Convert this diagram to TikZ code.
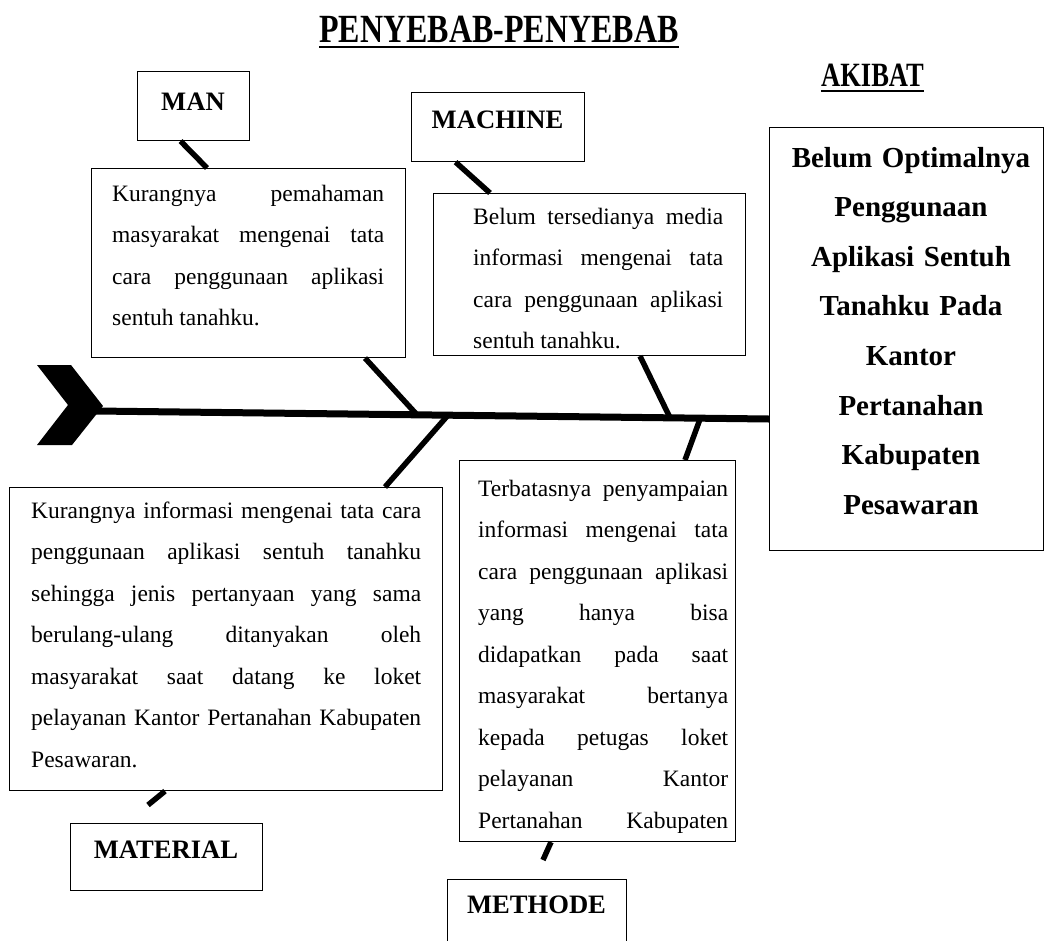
\documentclass[tikz,border=0pt]{standalone}
\usepackage{fontspec}
\setmainfont{Liberation Serif}
\usepackage{graphicx}
\usetikzlibrary{calc}
\newcommand{\nohyph}{\tolerance=10000\relax\hbadness=10000\relax\hyphenpenalty=10000\relax\exhyphenpenalty=10000\relax}
\begin{document}
\begin{tikzpicture}[x=1pt,y=-1pt,
  box/.style={draw, line width=1.1pt, inner sep=0pt, anchor=north west},
  body/.style={anchor=base west, inner sep=0pt, align=justify,
    font=\fontsize{23.5}{41.5}\selectfont},
  lbl/.style={anchor=base, inner sep=0pt, font=\fontsize{26.6}{30}\selectfont\bfseries},
  bone/.style={line width=5.5pt},
  ttl/.style={anchor=base, inner sep=0pt},
  uline/.style={line width=2.5pt}
]
\useasboundingbox (0,0) rectangle (1044,940);

% titles
\node[ttl, font=\fontsize{40}{40}\selectfont\bfseries] (title) at (499,42) {\scalebox{0.8}[1]{PENYEBAB-PENYEBAB}};
\draw[uline] ($(title.base west)+(0,5)$) -- ($(title.base east)+(0,5)$);
\node[ttl, font=\fontsize{34}{34}\selectfont\bfseries] (akibatttl) at (872.5,86) {\scalebox{0.78}[1]{AKIBAT}};
\draw[uline] ($(akibatttl.base west)+(0,5)$) -- ($(akibatttl.base east)+(0,5)$);

% label boxes
\node[box, minimum width=112pt, minimum height=69pt] (manbox) at (137,71) {};
\node[lbl] (manlbl) at (193,110) {MAN};
\node[box, minimum width=173pt, minimum height=69pt] (machbox) at (411,92) {};
\node[lbl] (machlbl) at (497.5,128) {MACHINE};
\node[box, minimum width=192pt, minimum height=67pt] (matbox) at (70,823) {};
\node[lbl] (matlbl) at (166,858) {MATERIAL};
\node[box, minimum width=179pt, minimum height=90pt] (methbox) at (447,879) {};
\node[lbl] (methlbl) at (536.5,913) {METHODE};

% text boxes
\node[box, minimum width=314pt, minimum height=189pt] (mantxtbox) at (91,168) {};
\node[body, text width=272pt] (mantxt) at (112,201) {\nohyph Kurangnya pemahaman\linebreak masyarakat mengenai tata\linebreak cara penggunaan aplikasi\linebreak sentuh tanahku.};

\node[box, minimum width=312pt, minimum height=162pt] (machtxtbox) at (433,193) {};
\node[body, text width=250pt] (machtxt) at (473,224) {\nohyph Belum tersedianya media\linebreak informasi mengenai tata\linebreak cara penggunaan aplikasi\linebreak sentuh tanahku.};

\node[box, minimum width=433pt, minimum height=303pt] (mattxtbox) at (9,487) {};
\node[body, text width=390pt] (mattxt) at (31,518) {\nohyph Kurangnya informasi mengenai tata cara\linebreak penggunaan aplikasi sentuh tanahku\linebreak sehingga jenis pertanyaan yang sama\linebreak berulang-ulang ditanyakan oleh\linebreak masyarakat saat datang ke loket\linebreak pelayanan Kantor Pertanahan Kabupaten\linebreak Pesawaran.};

\node[box, minimum width=276pt, minimum height=381pt] (methtxtbox) at (459,460) {};
\node[body, text width=250pt] (methtxt) at (478,496) {\nohyph Terbatasnya penyampaian\linebreak informasi mengenai tata\linebreak cara penggunaan aplikasi\linebreak yang hanya bisa\linebreak didapatkan pada saat\linebreak masyarakat bertanya\linebreak kepada petugas loket\linebreak pelayanan Kantor\linebreak Pertanahan\hspace{\fill} Kabupaten};

% effect box
\node[box, minimum width=274pt, minimum height=423pt] (akibatbox) at (769,127) {};
\node[anchor=base, inner sep=0pt, align=center, text width=260pt,
  font=\fontsize{29}{49.6}\selectfont\bfseries] (akibattxt) at (911,167)
  {Belum Optimalnya\\ Penggunaan\\ Aplikasi Sentuh\\ Tanahku Pada\\ Kantor\\ Pertanahan\\ Kabupaten\\ Pesawaran};

% fish tail and spine
\fill (37,365) -- (71,365) -- (103,406) -- (72,445) -- (37,445) -- (68,405) -- cycle;
\coordinate (tail) at (96,411);
\coordinate (head) at (akibatbox.west |- 0,419);
\draw[line width=7pt] (tail) -- (head);

% bones
\draw[bone] ([xshift=-13pt]manbox.south) -- ([xshift=116pt]mantxtbox.north west);
\draw[bone] ([xshift=274pt]mantxtbox.south west) -- ($(tail)!0.477!(head)$);
\draw[bone] ([xshift=-42.5pt]machbox.south) -- ([xshift=57pt]machtxtbox.north west);
\draw[bone] ([xshift=207pt]machtxtbox.south west) -- ($(tail)!0.853!(head)$);
\draw[bone] ($(tail)!0.523!(head)$) -- ([xshift=376pt]mattxtbox.north west);
\coordinate (matend) at (148,805);
\draw[bone] ([xshift=156pt]mattxtbox.south west) -- (matend);
\draw[bone] ($(tail)!0.898!(head)$) -- ([xshift=226pt]methtxtbox.north west);
\coordinate (methend) at (543,860);
\draw[bone] ([xshift=92pt]methtxtbox.south west) -- (methend);
\end{tikzpicture}
\end{document}
